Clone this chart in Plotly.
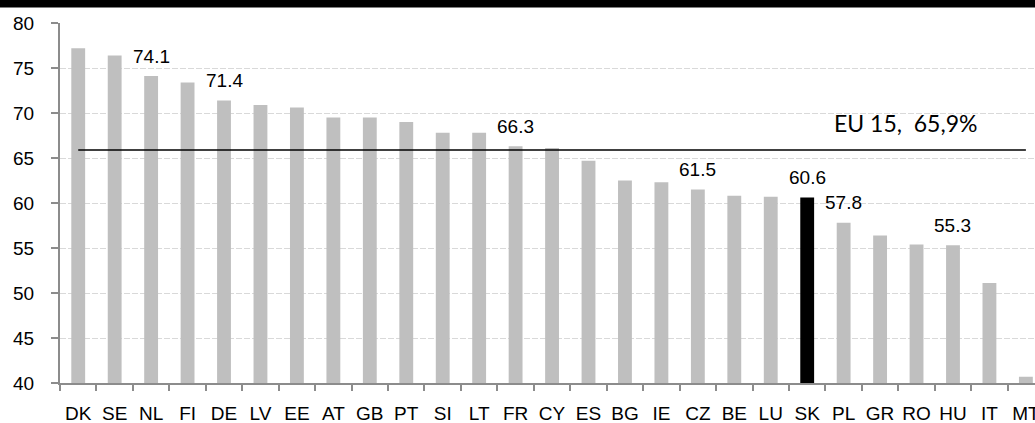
import plotly.graph_objects as go

countries = ["DK", "SE", "NL", "FI", "DE", "LV", "EE", "AT", "GB", "PT", "SI", "LT", "FR", "CY",
             "ES", "BG", "IE", "CZ", "BE", "LU", "SK", "PL", "GR", "RO", "HU", "IT", "MT"]
values = [77.2, 76.4, 74.1, 73.4, 71.4, 70.9, 70.6, 69.5, 69.5, 69.0, 67.8, 67.8, 66.3, 66.1,
          64.7, 62.5, 62.3, 61.5, 60.8, 60.7, 60.6, 57.8, 56.4, 55.4, 55.3, 51.1, 40.7]
highlight = "SK"
labelled = ["NL", "DE", "FR", "CZ", "SK", "PL", "HU"]
eu15_value = 65.9
eu15_text = "EU 15,  65,9%"

colors = ["#000000" if c == highlight else "#bfbfbf" for c in countries]

fig = go.Figure()
fig.add_trace(go.Bar(x=countries, y=values, marker=dict(color=colors, line=dict(width=0)),
                     showlegend=False, hoverinfo="x+y"))
fig.add_trace(go.Scatter(x=[countries[0], countries[-1]], y=[eu15_value, eu15_value],
                         mode="lines", line=dict(color="#000000", width=1.5),
                         showlegend=False, hoverinfo="skip"))

for c, v in zip(countries, values):
    if c in labelled:
        fig.add_annotation(x=c, y=v, text=f"{v:.1f}", showarrow=False, yanchor="middle",
                           yshift=20, font=dict(family="Liberation Sans, Arial", size=19, color="#000000"))

fig.add_annotation(x=22.7, y=eu15_value, text=eu15_text, showarrow=False, yanchor="middle",
                   yshift=27, font=dict(family="Lato, Open Sans", size=23, color="#000000"))

# black band at the top (cropped title strip)
fig.add_shape(type="rect", xref="paper", yref="paper", x0=-0.1, x1=1.1,
              y0=1 + 15.5 / 360, y1=1 + 30 / 360, fillcolor="#000000", line=dict(width=0), layer="above")

fig.update_layout(
    width=1035, height=423,
    margin=dict(l=60, r=0, t=23, b=40),
    paper_bgcolor="white", plot_bgcolor="white",
    bargap=0.62,
    font=dict(family="Liberation Sans, Arial", size=19, color="#000000"),
    xaxis=dict(type="category", categoryorder="array", categoryarray=countries,
               range=[-0.5, 26.25], showgrid=False, showline=True, linecolor="#8c8c8c", linewidth=2,
               ticks="outside", tickson="boundaries", ticklen=6, tickcolor="#8c8c8c", tickwidth=1.5,
               tickfont=dict(size=19), tickangle=0, ticklabelstandoff=12, automargin=False,
               fixedrange=True),
    yaxis=dict(range=[40, 80], tickmode="array", tickvals=[40, 45, 50, 55, 60, 65, 70, 75, 80],
               showgrid=True, gridcolor="#d9d9d9", griddash="6px,2px", gridwidth=1,
               showline=True, linecolor="#8c8c8c", linewidth=2, zeroline=False,
               ticks="outside", ticklen=7, tickcolor="#8c8c8c", tickwidth=1.5,
               tickfont=dict(size=19), ticklabelstandoff=13, automargin=False, fixedrange=True),
)

fig.write_html("out.html", config={"displayModeBar": False},
               post_script="document.body.style.margin='0';document.body.style.overflow='hidden';")
